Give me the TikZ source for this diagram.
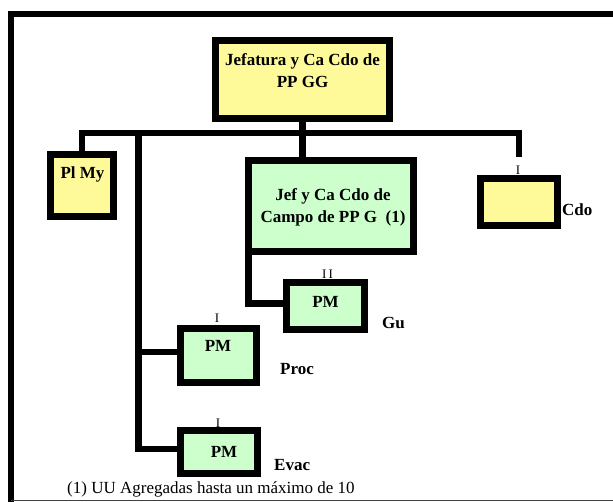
\documentclass[tikz,border=0pt]{standalone}
\usepackage{fontspec}
\setmainfont{Liberation Serif}
\usetikzlibrary{positioning}

\begin{document}
\begin{tikzpicture}[
    x=1pt, y=-1pt,
    box/.style={rectangle, draw=black, line width=7pt, inner sep=0pt},
    ybox/.style={box, fill=yellow!40},
    gbox/.style={box, fill=green!20},
    conn/.style={line width=6.5pt},
    txt/.style={inner sep=0pt, align=center, font=\bfseries\fontsize{17}{22}\selectfont},
    tag/.style={inner sep=0pt, anchor=base west, font=\bfseries\fontsize{17}{20}\selectfont},
    itag/.style={inner sep=0pt, anchor=base, font=\fontsize{13}{15}\selectfont}
]
\useasboundingbox (0,0) rectangle (613,502);

% Frame
\draw[line width=6pt] (10.5,502) -- (10.5,13.7) -- (616,13.7);
\draw[line width=1.5pt, black!75] (10.5,500.5) -- (613,500.5);

% Boxes
\node[ybox, minimum width=174pt, minimum height=78pt] (jefa) at (302.5,79.5) {};
\node[ybox, minimum width=63pt, minimum height=62pt] (plmy) at (82,185.5) {};
\node[gbox, minimum width=165pt, minimum height=91pt] (jef) at (331,206) {};
\node[ybox, minimum width=77pt, minimum height=47pt] (cdo) at (519,202) {};
\node[gbox, minimum width=78pt, minimum height=47pt] (gu) at (325.5,306) {};
\node[gbox, minimum width=76pt, minimum height=54pt] (proc) at (218.5,355.5) {};
\node[gbox, minimum width=77pt, minimum height=43pt] (evac) at (219,452) {};

% Box texts
\node[txt, anchor=base] (jefatxt) at (302.5,88) {Jefatura y Ca Cdo de\\PP GG};
\node[txt, anchor=base] (plmytxt) at (82.5,179) {Pl My};
\node[txt, anchor=base] (jeftxt) at (333,223) {Jef y Ca Cdo de\\Campo de PP G~~(1)};
\node[txt, anchor=base] (gutxt) at (325.5,308) {PM};
\node[txt, anchor=base] (proctxt) at (218,352) {PM};
\node[txt, anchor=base] (evactxt) at (224,457) {PM};

% Bus and free ends
\coordinate (busL) at (82,133);
\coordinate (trunk) at (138.5,133);
\coordinate (cdoend) at (519,157);

% Connectors
\draw[conn] (jefa.south) -- (jefa.south |- jef.north);
\draw[conn] (plmy.north) -- (busL) -| (cdoend);
\draw[conn] (trunk) |- ([yshift=3pt]evac.west);
\draw[conn] (trunk |- proc.west) ++(0,-3.5) -- ([yshift=3.5pt]proc.west);
\draw[conn] ([xshift=3.5pt]jef.south west) |- ([yshift=2.5pt]gu.west);

% Unit marks
\node[itag] (cdoi) at (518,175) {I};
\node[itag] (gui) at (327.5,279) {I\,I};
\node[itag] (proci) at (217,323) {I};
\node[itag] (evaci) at (218,427) {I};

% Side labels
\node[tag] (cdolbl) at (562,216) {Cdo};
\node[tag] (gulbl) at (382,329) {Gu};
\node[tag] (proclbl) at (280,374) {Proc};
\node[tag] (evaclbl) at (274,470) {Evac};

% Footnote
\node[inner sep=0pt, anchor=base west, font=\fontsize{17}{20}\selectfont] (note) at (67,493) {(1) UU Agregadas hasta un máximo de 10};

\end{tikzpicture}
\end{document}
